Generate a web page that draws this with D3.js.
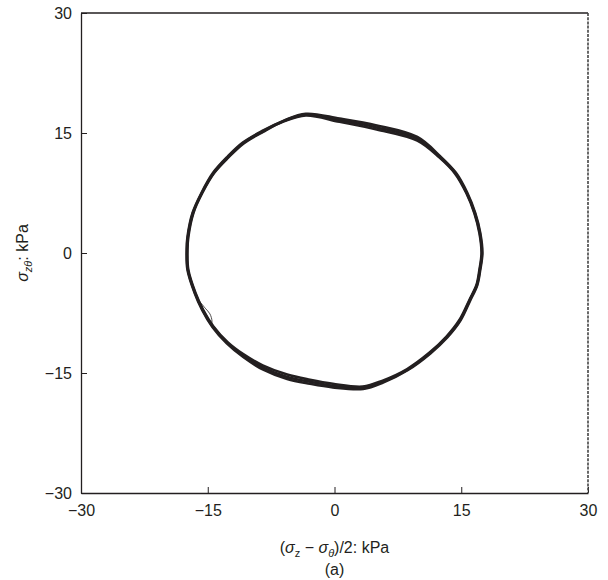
<!DOCTYPE html>
<html>
<head>
<meta charset="utf-8">
<script src="https://cdn.jsdelivr.net/npm/d3@7"></script>
<style>
  html, body { margin: 0; padding: 0; background: #fff; }
  svg text { font-family: "Liberation Sans", Arial, sans-serif; fill: #231f20; }
</style>
</head>
<body>
<svg id="chart" width="608" height="580"></svg>
<script>
// ---- data (kPa) ----
const xTicks = [-30, -15, 0, 15, 30];
const yTicks = [-30, -15, 0, 15, 30];

const loop1 = [[-3.4,17.3],[0.6,16.6],[5.0,15.7],[9.8,14.3],[12.45,12.0],[14.3,10.0],[15.65,7.5],[16.6,5.0],[17.2,2.5],[17.45,0],[17.2,-2.1],[16.85,-4.0],[16.0,-5.9],[14.85,-8.4],[13.3,-10.5],[11.3,-12.5],[8.6,-14.6],[5.7,-16.1],[3.4,-16.9],[-0.2,-16.6],[-2.9,-16.1],[-5.6,-15.5],[-8.5,-14.3],[-10.8,-12.8],[-12.7,-11.2],[-14.4,-9.2],[-15.6,-7.1],[-16.5,-5.0],[-17.35,-2.1],[-17.45,0.4],[-17.35,2.0],[-16.75,5.0],[-15.7,7.5],[-14.3,10.0],[-12.6,12.0],[-10.8,13.75],[-8.5,15.2],[-6.0,16.5]];

const loop2 = [[-3.4,17.2],[0.6,16.4],[5.0,15.45],[9.8,14.05],[12.4,11.95],[14.25,9.95],[15.6,7.5],[16.55,5.0],[17.15,2.5],[17.4,0],[17.15,-2.1],[16.8,-4.0],[15.95,-5.9],[14.8,-8.35],[13.25,-10.45],[11.25,-12.45],[8.6,-14.5],[5.7,-15.95],[3.35,-16.7],[-0.2,-16.35],[-2.9,-15.85],[-5.6,-15.2],[-8.5,-14.05],[-10.8,-12.65],[-12.65,-11.15],[-14.35,-9.15],[-15.55,-7.1],[-16.45,-5.0],[-17.3,-2.1],[-17.4,0.4],[-17.3,2.0],[-16.7,5.0],[-15.65,7.5],[-14.25,10.0],[-12.55,11.95],[-10.75,13.7],[-8.45,15.15],[-6.0,16.45]];

const loop3 = [[-3.4,17.4],[0.6,16.8],[5.0,15.95],[9.8,14.5],[12.5,12.1],[14.35,10.05],[15.7,7.55],[16.65,5.0],[17.25,2.5],[17.5,0],[17.25,-2.1],[16.9,-4.0],[16.05,-5.95],[14.9,-8.45],[13.35,-10.55],[11.35,-12.55],[8.65,-14.65],[5.75,-16.2],[3.4,-17.0],[-0.2,-16.8],[-2.9,-16.35],[-5.6,-15.75],[-8.5,-14.55],[-10.8,-13.0],[-12.75,-11.3],[-14.45,-9.25],[-15.65,-7.15],[-16.55,-5.0],[-17.4,-2.1],[-17.5,0.4],[-17.4,2.0],[-16.8,5.0],[-15.75,7.5],[-14.35,10.05],[-12.65,12.05],[-10.85,13.8],[-8.55,15.25],[-6.0,16.55]];

const bump = [[-16.0,-6.0],[-15.3,-6.9],[-14.75,-7.6],[-14.5,-8.5],[-14.6,-9.1]];

// ---- layout ----
const svg = d3.select("#chart");
const L = 81, R = 588, T = 13, B = 493;
const x = d3.scaleLinear().domain([-30, 30]).range([L, R]);
const y = d3.scaleLinear().domain([-30, 30]).range([B, T]);
const ink = "#231f20";

// axes
const gx = svg.append("g").attr("transform", `translate(0,${B})`)
  .call(d3.axisBottom(x).tickValues(xTicks).tickSizeInner(-6).tickSizeOuter(0).tickPadding(12)
    .tickFormat(d => d < 0 ? "\u2212" + Math.abs(d) : d));
const gy = svg.append("g").attr("transform", `translate(${L},0)`)
  .call(d3.axisLeft(y).tickValues(yTicks).tickSizeInner(-6).tickSizeOuter(0).tickPadding(9)
    .tickFormat(d => d < 0 ? "\u2212" + Math.abs(d) : d));
[gx, gy].forEach(g => {
  g.selectAll("path.domain").attr("stroke", ink).attr("stroke-width", 1.3);
  g.selectAll(".tick line").attr("stroke", ink).attr("stroke-width", 1);
  g.selectAll(".tick text").attr("font-size", 16).attr("fill", ink)
    .style("font-family", '"Liberation Sans", Arial, sans-serif');
});
// top and right frame
svg.append("line").attr("x1", L).attr("x2", R).attr("y1", T).attr("y2", T)
  .attr("stroke", ink).attr("stroke-width", 1.3);
svg.append("line").attr("x1", R).attr("x2", R).attr("y1", T).attr("y2", B)
  .attr("stroke", "#444").attr("stroke-width", 1.6).attr("stroke-dasharray", "3,1.2");

// loops
const line = d3.line().x(d => x(d[0])).y(d => y(d[1])).curve(d3.curveCatmullRomClosed);
[loop1, loop2, loop3].forEach(lp => {
  svg.append("path").attr("d", line(lp)).attr("fill", "none")
    .attr("stroke", ink).attr("stroke-width", 2.6).attr("stroke-linejoin", "round");
});
const openLine = d3.line().x(d => x(d[0])).y(d => y(d[1])).curve(d3.curveCatmullRom);
svg.append("path").attr("d", openLine(bump)).attr("fill", "none")
  .attr("stroke", ink).attr("stroke-width", 0.8);

// x-axis label
const xl = svg.append("text").attr("x", (L + R) / 2).attr("y", 553)
  .attr("text-anchor", "middle").attr("font-size", 16);
xl.append("tspan").text("(");
xl.append("tspan").attr("font-style", "italic").text("σ");
xl.append("tspan").attr("font-size", 11).attr("dy", 4).text("z");
xl.append("tspan").attr("dy", -4).text(" − ");
xl.append("tspan").attr("font-style", "italic").text("σ");
xl.append("tspan").attr("font-size", 11).attr("dy", 4).attr("font-style", "italic").text("θ");
xl.append("tspan").attr("dy", -4).text(")/2: kPa");

svg.append("text").attr("x", (L + R) / 2).attr("y", 575)
  .attr("text-anchor", "middle").attr("font-size", 16).text("(a)");

// y-axis label
const yl = svg.append("text").attr("transform", `translate(28,${(T + B) / 2}) rotate(-90)`)
  .attr("text-anchor", "middle").attr("font-size", 16);
yl.append("tspan").attr("font-style", "italic").text("σ");
yl.append("tspan").attr("font-size", 11).attr("dy", 4).attr("font-style", "italic").text("zθ");
yl.append("tspan").attr("dy", -4).text(": kPa");
</script>
</body>
</html>
